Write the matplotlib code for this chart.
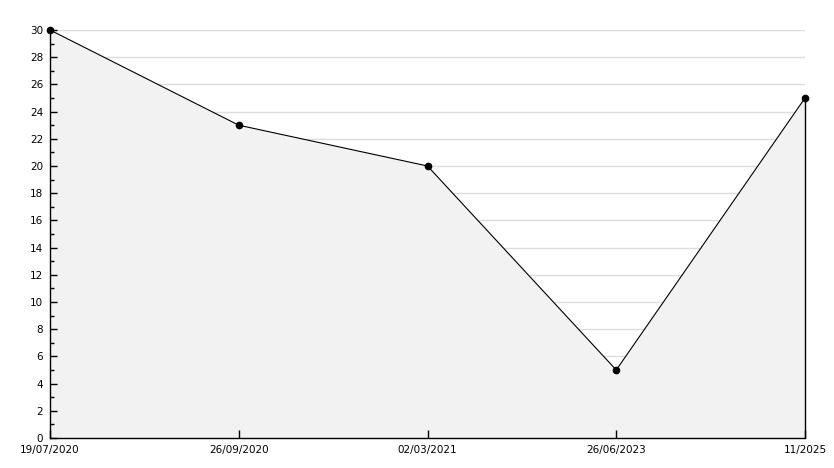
import matplotlib
matplotlib.use("Agg")
import matplotlib.pyplot as plt
from matplotlib.ticker import MultipleLocator

dates = ["19/07/2020", "26/09/2020", "02/03/2021", "26/06/2023", "11/2025"]
values = [30, 23, 20, 5, 25]

W, H = 834, 468
fig = plt.figure(figsize=(W / 100, H / 100), dpi=100)
pos = [50 / W, 30 / H, (805 - 50) / W, (438 - 30) / H]
ax = fig.add_axes(pos)
x = list(range(len(dates)))

# Background axes: grid + data
ax.set_xlim(x[0], x[-1])
ax.set_ylim(0, 30)
ax.yaxis.set_major_locator(MultipleLocator(2))
ax.grid(axis="y", which="major", color="#dddddd", linewidth=1, zorder=0)
ax.set_axisbelow(True)
for s in ax.spines.values():
    s.set_visible(False)

ax.fill_between(x, values, 0, color="#f2f2f2", zorder=1, linewidth=0)
ax.vlines(x[-1], 0, values[-1], color="black", linewidth=1, zorder=2, clip_on=False)
ax.plot(x, values, color="black", linewidth=0.8, zorder=3, clip_on=False,
        marker="o", markersize=4.5, markerfacecolor="black", markeredgecolor="black")

# Overlay axes: spines, ticks, labels
ax2 = fig.add_axes(pos, sharex=ax, sharey=ax)
ax2.patch.set_visible(False)
ax2.yaxis.set_major_locator(MultipleLocator(2))
ax2.yaxis.set_minor_locator(MultipleLocator(1))
ax2.set_xticks(x)
ax2.set_xticklabels(dates)
for s in ["top", "right"]:
    ax2.spines[s].set_visible(False)
for s in ["left", "bottom"]:
    ax2.spines[s].set_color("black")
    ax2.spines[s].set_linewidth(1)

ax2.tick_params(axis="y", which="major", direction="in", length=5, width=1, labelsize=7.5, pad=5)
ax2.tick_params(axis="y", which="minor", direction="in", length=3, width=1)
ax2.tick_params(axis="x", which="major", direction="in", length=6, width=1, labelsize=7.5, pad=5)

ax.tick_params(which="both", left=False, bottom=False, right=False, top=False,
               labelleft=False, labelbottom=False)

fig.savefig("out.png", dpi=100, facecolor="white")
